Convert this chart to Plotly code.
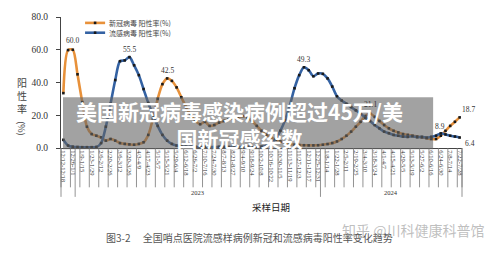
import plotly.graph_objects as go
import pandas as pd

# ---- data ----
week_starts = pd.date_range("2022-12-12", periods=85, freq="7D")
weeks = [f"{d.month}/{d.day}-{(d + pd.Timedelta(days=6)).month}/{(d + pd.Timedelta(days=6)).day}"
         for d in week_starts]
tick_labels = weeks[::2]
years = ["2023", "2024"]
series_names = ["新冠病毒 阳性率(%)", "流感病毒 阳性率(%)"]

covid = [33.5, 59.8, 60.0, 45.0, 28.0, 13.0, 8.5, 7.5, 6.5, 4.5,
         5.5, 4.5, 3.0, 2.5, 2.2, 2.0, 2.5, 3.5, 8.0, 18.0,
         30.0, 39.0, 42.5, 41.0, 37.0, 31.0, 25.0, 20.0, 16.5, 14.5,
         16.0, 13.5, 14.0, 15.5, 16.5, 17.5, 18.0, 18.5, 19.5, 18.5,
         16.5, 13.5, 10.5, 8.0, 6.5, 5.0, 4.0, 3.2, 2.5, 2.0,
         1.8, 1.7, 1.6, 1.6, 1.7, 2.0, 2.4, 3.0, 4.0, 5.5,
         7.5, 10.0, 13.0, 16.0, 19.5, 21.1, 19.0, 16.5, 14.0, 12.0,
         10.5, 9.5, 8.5, 8.0, 7.5, 7.0, 6.5, 6.0, 5.5, 5.5,
         7.5, 10.5, 13.5, 16.0, 18.7]

flu = [5.0, 1.5, 0.8, 0.6, 0.5, 0.5, 0.5, 0.6, 3.0, 13.0,
       27.0, 41.5, 53.0, 53.5, 55.5, 50.5, 44.5, 36.0, 27.5, 20.0,
       13.5, 8.0, 4.5, 2.5, 1.5, 1.0, 0.8, 0.7, 0.7, 0.6,
       0.7, 0.7, 0.6, 0.7, 0.7, 0.6, 0.7, 0.7, 0.6, 0.7,
       0.7, 0.8, 0.8, 1.2, 2.5, 5.5, 10.5, 17.0, 26.0, 36.5,
       44.5, 49.3, 47.5, 43.8, 45.5, 45.3, 42.5, 37.5, 31.5, 29.0,
       27.0, 25.0, 23.0, 21.0, 18.5, 16.5, 14.0, 12.0, 10.0, 9.0,
       8.0, 7.5, 7.0, 6.8, 7.2, 6.6, 6.8, 6.3, 6.8, 7.5,
       8.9, 8.3, 7.5, 7.0, 6.4]

# labelled points: (index, xshift, yshift)
labels_covid = [(2, 0, 9), (22, 0, 8), (65, 0, 9), (84, 9, 8)]
labels_flu = [(14, 0, 8), (51, 0, 8), (80, -1, 7), (84, 10, -6)]

ORANGE = "#E8913A"
BLUE = "#3462A3"
SERIF = "Liberation Serif"
CJK = "Noto Sans CJK SC"
colors = [ORANGE, BLUE]

fig = go.Figure()
for vals, nm, col in zip([covid, flu], series_names, colors):
    fig.add_trace(go.Scatter(
        x=weeks, y=vals, name=nm, mode="lines+markers", showlegend=False,
        line=dict(color=col, width=2.6, shape="spline", smoothing=0.8),
        marker=dict(symbol="square", size=2.6, color="#1a1a1a"),
    ))

ann = []
for i, xs, ys in labels_covid:
    ann.append(dict(x=weeks[i], y=covid[i], xref="x", yref="y", text=f"{covid[i]:.1f}",
                    showarrow=False, xshift=xs, yshift=ys,
                    font=dict(family=SERIF, size=7.5, color="#333")))
for i, xs, ys in labels_flu:
    ann.append(dict(x=weeks[i], y=flu[i], xref="x", yref="y", text=f"{flu[i]:.1f}",
                    showarrow=False, xshift=xs, yshift=ys,
                    font=dict(family=SERIF, size=7.5, color="#333")))

N = len(weeks)
def px(pos):
    return (pos + 0.5) / N

def pann(x, y, text, size, color, family=CJK, **kw):
    d = dict(x=x, y=y, xref="paper", yref="paper", text=text, showarrow=False,
             xanchor="center", yanchor="middle", font=dict(family=family, size=size, color=color))
    d.update(kw)
    ann.append(d)

shapes = []
bounds = list(range(-1, N, 2)) + [N - 1]
for b in bounds:
    pos = b + 0.5
    shapes.append(dict(type="line", xref="paper", yref="paper", x0=px(pos), x1=px(pos),
                       y0=0, y1=-0.30, line=dict(color="#777", width=0.8)))
for pos in [-0.5, 2.5, 54.5, N - 0.5]:
    shapes.append(dict(type="line", xref="paper", yref="paper", x0=px(pos), x1=px(pos),
                       y0=0, y1=-0.373, line=dict(color="#777", width=0.8)))

# year labels
for yr, centre in zip(years, [28.5, 69.5]):
    pann(px(centre), -0.336, yr, 6.5, "#333", family=SERIF)

# manual legend
for k, (nm, col) in enumerate(zip(series_names, colors)):
    yy = 0.955 - k * 0.075
    shapes.append(dict(type="line", xref="paper", yref="paper", x0=0.060, x1=0.110, y0=yy, y1=yy,
                       line=dict(color=col, width=2.6)))
    shapes.append(dict(type="rect", xref="paper", yref="paper", x0=0.0818, x1=0.0882,
                       y0=yy - 0.010, y1=yy + 0.010, fillcolor="#1a1a1a", line=dict(width=0)))
    pann(0.115, yy, nm, 7, "#444", xanchor="left")

# axis titles
pann(-0.097, 0.40, "阳<br>性<br>率", 10, "#444")
pann(-0.097, 0.15, "(%)", 9, "#444", textangle=90)
pann(0.524, -0.448, "采样日期", 9.5, "#222")
pann(0.471, -0.687, "图3-2　 全国哨点医院流感样病例新冠和流感病毒阳性率变化趋势", 10, "#555")
pann(0.878, -0.627, "知乎 @川科健康科普馆", 14, "rgba(170,170,170,0.75)")

# overlay banner
shapes.append(dict(type="rect", xref="paper", yref="paper", x0=0.005, x1=0.928, y0=-0.01, y1=0.388,
                   fillcolor="rgba(100,100,100,0.6)", line=dict(width=0), layer="above"))
pann(0.446, 0.183, "<b>美国新冠病毒感染病例超过45万/美</b><br><b>国新冠感染数</b>", 21, "white")

fig.update_layout(
    width=500, height=253,
    margin=dict(l=61, r=38, t=14, b=105),
    paper_bgcolor="white", plot_bgcolor="white",
    showlegend=False,
    xaxis=dict(type="category", range=[-0.5, N - 0.5], showline=True, linecolor="#444",
               linewidth=1, ticks="", tickmode="array", tickvals=tick_labels, ticktext=tick_labels,
               tickangle=90, tickfont=dict(family=SERIF, size=6.5, color="#333"),
               showgrid=False, zeroline=False),
    yaxis=dict(range=[0, 80], tickvals=[0, 20, 40, 60, 80], tickformat=".1f",
               showline=True, linecolor="#444", linewidth=1, ticks="outside", ticklen=4,
               tickcolor="#444", ticklabelstandoff=6,
               tickfont=dict(family=SERIF, size=9.5, color="#333"),
               showgrid=False, zeroline=False),
    annotations=ann, shapes=shapes,
)

fig.write_html("out.html")
